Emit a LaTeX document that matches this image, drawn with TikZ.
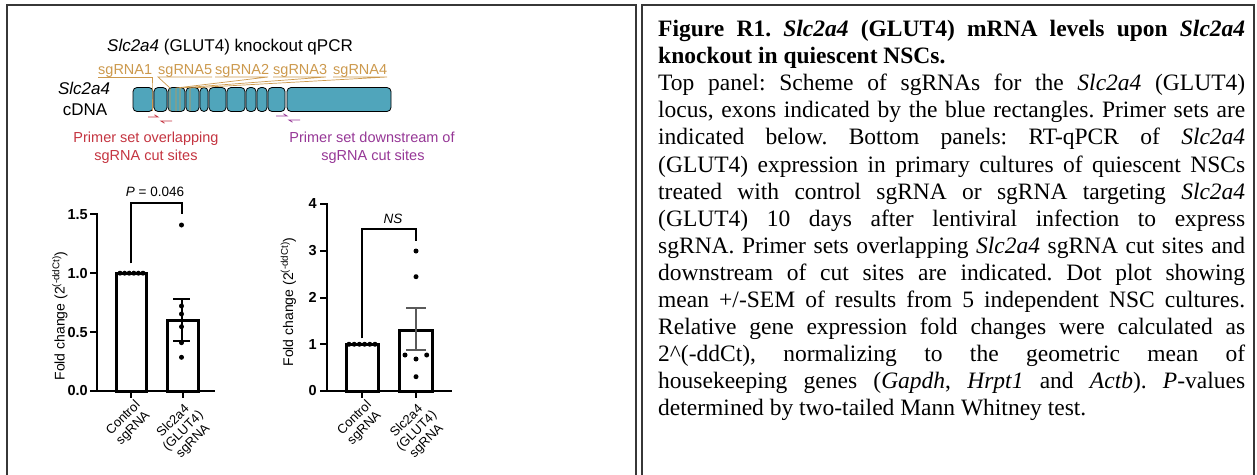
\documentclass[tikz,border=0pt]{standalone}
\usepackage{fontspec}
\setmainfont{Liberation Serif}
\newfontfamily\arial{Liberation Sans}
\definecolor{exonc}{RGB}{80,165,187}
\definecolor{sgc}{RGB}{204,153,77}
\definecolor{redc}{RGB}{196,52,64}
\definecolor{purc}{RGB}{150,55,150}
\definecolor{boxc}{RGB}{55,55,55}
\definecolor{errc}{RGB}{90,90,90}
\frenchspacing
\begin{document}
\begin{tikzpicture}[x=1pt,y=-1pt,
  border/.style={draw=boxc, line width=1.8pt},
  exon/.style={draw=black, line width=0.8pt, fill=exonc, rounded corners=4pt},
  sgline/.style={draw=sgc, line width=0.7pt},
  sglab/.style={inner sep=0pt, anchor=base west, text=sgc, font=\arial\fontsize{14.5}{17}\selectfont},
  primer/.style={line width=0.8pt},
  lbl/.style={inner sep=0pt, anchor=base, font=\arial\fontsize{14.5}{17}\selectfont},
  axisline/.style={line width=2pt},
  barbox/.style={line width=3pt},
  ticklab/.style={inner sep=0pt, anchor=east, font=\arial\bfseries\fontsize{14.5}{17}\selectfont},
  xlab/.style={inner sep=0pt, anchor=north east, rotate=45, align=center, font=\arial\fontsize{13}{14}\selectfont},
  ylab/.style={inner sep=0pt, rotate=90, font=\arial\fontsize{14}{17}\selectfont},
  stat/.style={inner sep=0pt, anchor=base, font=\arial\fontsize{13.5}{16}\selectfont}]
\useasboundingbox (0,0) rectangle (1257,474);
% panel borders
\draw[border] (7,480) -- (7,5) -- (636,5) -- (636,480);
\draw[border] (642,480) -- (642,5) -- (1254,5) -- (1254,480);

% ---------- top scheme ----------
\node[inner sep=0pt, anchor=base, font=\arial\fontsize{17}{21}\selectfont] (title) at (230,51) {\textit{Slc2a4} (GLUT4) knockout qPCR};
\node[inner sep=0pt, anchor=base, font=\arial\fontsize{17}{21}\selectfont] (gene) at (84,94) {\textit{Slc2a4}};
\node[inner sep=0pt, anchor=base, font=\arial\fontsize{17}{21}\selectfont] (cdna) at (85,115) {cDNA};

\foreach \a/\b in {133/153,154/167,168/185,186/199,200/208,209/226,227/245,246/256,257/267,268/285,287/391}
  \draw[exon] (\a,87.5) rectangle (\b,111.5);

\node[sglab] (sg1) at (98,74) {sgRNA1};
\node[sglab] (sg5) at (158,74) {sgRNA5};
\node[sglab] (sg2) at (215,74) {sgRNA2};
\node[sglab] (sg3) at (273,74) {sgRNA3};
\node[sglab] (sg4) at (333,74) {sgRNA4};
\draw[sgline] (98,77) -- (152,77) -- (152,88) -- (152,111);
\draw[sgline] (212,77) -- (158,77) -- (170,88) -- (170,111);
\draw[sgline] (215,77) -- (268,77) -- (176,88) -- (176,111);
\draw[sgline] (273,77) -- (326,77) -- (180,88) -- (180,111);
\draw[sgline] (333,77) -- (387,77) -- (190,88) -- (190,111);

% primers
\draw[primer, redc] (148,117) -- (158,117) -- (154.5,114.8);
\draw[primer, redc] (172,121) -- (161,121) -- (164.5,123.2);
\draw[primer, purc] (276,116) -- (287,116) -- (283.5,113.8);
\draw[primer, purc] (300,120) -- (289,120) -- (292.5,122.2);
\node[lbl, text=redc] (r1) at (146,142) {Primer set overlapping};
\node[lbl, text=redc] (r2) at (146,160) {sgRNA cut sites};
\node[lbl, text=purc] (p1) at (372,142) {Primer set downstream of};
\node[lbl, text=purc] (p2) at (373,160) {sgRNA cut sites};

% ---------- chart 1 ----------
\draw[axisline] (97,213.3) -- (97,391) -- (215,391);
\foreach \y/\t in {391/0.0,332.1/0.5,273.2/1.0,214.3/1.5}{
  \draw[axisline] (90,\y) -- (97,\y);
  \node[ticklab] at (88,\y) {\t};
}
\draw[axisline] (131,391) -- (131,398);
\draw[axisline] (182.5,391) -- (182.5,398);
\draw[barbox] (116,391) rectangle (146.5,273.2);
\draw[barbox] (167,391) rectangle (198,320.3);
\foreach \x in {120,124.6,129.2,133.8,138.4,143} \fill (\x,273.2) circle (2.5);
\foreach \y in {225,306,314,326.7,342.7,357.3} \fill (181.5,\y) circle (2.5);
\draw[axisline] (173.3,299.3) -- (190,299.3) (181.7,299.3) -- (181.7,340.7) (173.3,340.7) -- (190,340.7);
\draw[axisline] (131,263.3) -- (131,203.3) -- (182,203.3) -- (182,214);
\node[stat] (pv) at (155,196) {\textit{P} = 0.046};
\node[ylab] (yl1) at (60,316) {Fold change (2\textsuperscript{(-ddCt)})};
\node[xlab] (c1) at (134,399) {Control\\sgRNA};
\node[xlab] (s1) at (187,399) {Slc2a4\\(GLUT4)\\sgRNA};

% ---------- chart 2 ----------
\draw[axisline] (326.7,203) -- (326.7,391) -- (451.7,391);
\foreach \y/\t in {391/0,344.25/1,297.5/2,250.75/3,204/4}{
  \draw[axisline] (320,\y) -- (326.7,\y);
  \node[ticklab] at (317,\y) {\t};
}
\draw[axisline] (362.3,391) -- (362.3,398);
\draw[axisline] (416,391) -- (416,398);
\draw[barbox] (346,391) rectangle (378.3,344.25);
\draw[barbox] (399.3,391) rectangle (432.7,330.2);
\foreach \x in {349,354.2,359.4,364.6,369.8,375} \fill (\x,344.25) circle (2.5);
\foreach \x/\y in {416/251,416/276.7,405/355,416/359,426.7/355,416/376.7} \fill (\x,\y) circle (2.5);
\draw[axisline, errc] (406,307.7) -- (426,307.7) (416,307.7) -- (416,350.3) (406,350.3) -- (426,350.3);
\draw[axisline] (362.3,338.3) -- (362.3,229) -- (416,229) -- (416,240.7);
\node[stat] (ns) at (393,223) {\textit{NS}};
\node[ylab] (yl2) at (288.5,302) {Fold change (2\textsuperscript{(-ddCt)})};
\node[xlab] (c2) at (365.3,399) {Control\\sgRNA};
\node[xlab] (s2) at (420.5,399) {Slc2a4\\(GLUT4)\\sgRNA};

% ---------- caption ----------
\node[anchor=north west, inner sep=0pt, text width=587pt, align=justify,
      font=\fontsize{23.5}{27.1}\selectfont] (cap) at (658,20) {%
\frenchspacing\hyphenpenalty=10000\exhyphenpenalty=10000\tolerance=10000\pretolerance=-1%
\textbf{Figure R1. \textit{Slc2a4} (GLUT4) mRNA levels upon \textit{Slc2a4}\linebreak
knockout in quiescent NSCs.}\par
Top panel: Scheme of sgRNAs for the \textit{Slc2a4} (GLUT4)\linebreak
locus, exons indicated by the blue rectangles. Primer sets are\linebreak
indicated below. Bottom panels: RT-qPCR of \textit{Slc2a4}\linebreak
(GLUT4) expression in primary cultures of quiescent NSCs\linebreak
treated with control sgRNA or sgRNA targeting \textit{Slc2a4}\linebreak
(GLUT4) 10 days after lentiviral infection to express\linebreak
sgRNA. Primer sets overlapping \textit{Slc2a4} sgRNA cut sites and\linebreak
downstream of cut sites are indicated. Dot plot showing\linebreak
mean +/-SEM of results from 5 independent NSC cultures.\linebreak
Relative gene expression fold changes were calculated as\linebreak
2\textasciicircum(-ddCt), normalizing to the geometric mean of\linebreak
housekeeping genes (\textit{Gapdh}, \textit{Hrpt1} and \textit{Actb}). \textit{P}-values\linebreak
determined by two-tailed Mann Whitney test.};
\end{tikzpicture}
\end{document}
